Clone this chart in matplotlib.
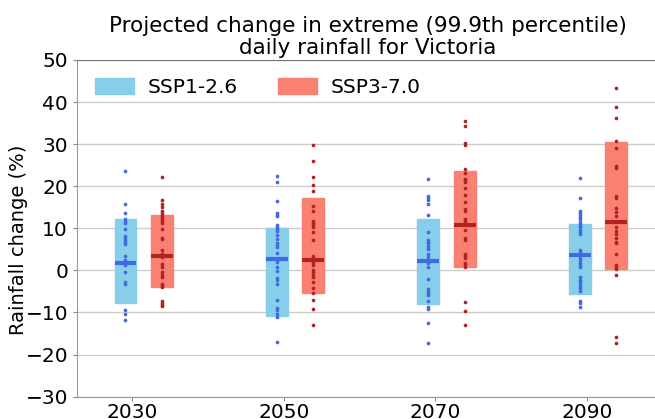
import matplotlib
matplotlib.use("Agg")
import matplotlib.pyplot as plt
import numpy as np
from matplotlib.patches import Patch

years = [2030, 2050, 2070, 2090]
scenarios = ["SSP1-2.6", "SSP3-7.0"]

ssp126_2030 = [23.6, 15.8, 13.6, 12.2, 11.7, 11.3, 9.8, 8.1, 7.6, 7.2, 6.7, 6.2, 3.4, 2.4,
               1.5, 1.2, -0.4, -2.8, -3.3, -9.4, -10.4, -11.8]
ssp126_2050 = [22.4, 21.1, 16.5, 13.7, 13.2, 12.8, 10.7, 10.2, 9.8, 9.3, 8.3, 7.4, 6.6, 6.0,
               5.5, 4.2, 2.0, 0.8, -0.2, -1.9, -2.4, -3.2, -7.0, -8.9, -9.5, -10.3, -11.2, -17.1]
ssp126_2070 = [21.8, 17.6, 17.1, 16.6, 15.7, 13.2, 9.2, 7.3, 6.8, 6.4, 5.9, 5.4, 5.0, 4.0,
               3.2, 2.7, 1.8, 0.8, -2.0, -4.5, -5.0, -5.5, -5.9, -7.4, -8.6, -9.1, -12.4, -17.2]
ssp126_2090 = [21.9, 17.1, 14.1, 13.6, 13.2, 12.7, 12.2, 11.6, 11.1, 10.6, 10.2, 9.7, 9.2, 8.7,
               4.8, 4.3, 2.9, 2.4, 1.8, 1.3, 0.8, -1.7, -2.2, -2.6, -3.1, -3.7, -4.2, -5.0,
               -7.4, -7.8, -8.8]
ssp370_2030 = [22.1, 16.8, 15.8, 15.0, 14.1, 13.6, 13.2, 12.7, 12.2, 11.7, 11.3, 9.8, 7.8, 7.5,
               4.9, 4.0, 3.1, 1.6, 0.7, -0.3, -1.2, -1.7, -3.3, -3.7, -4.0, -7.2, -7.7, -8.2, -8.5]
ssp370_2050 = [29.8, 25.9, 22.2, 20.3, 18.9, 15.3, 14.2, 11.7, 11.2, 10.7, 10.2, 9.1, 7.2, 3.3,
               2.7, 2.0, 1.2, 0.1, -0.3, -1.0, -1.6, -2.7, -4.1, -5.4, -7.1, -9.2, -13.1]
ssp370_2070 = [35.4, 34.3, 30.2, 29.7, 24.0, 23.1, 21.8, 21.4, 21.0, 19.6, 17.9, 16.2, 14.6, 14.1,
               12.2, 11.9, 11.4, 9.5, 7.6, 7.3, 3.8, 3.4, 2.9, 1.8, 1.3, 0.8, -7.5, -9.6, -12.9]
ssp370_2090 = [43.3, 38.9, 36.2, 30.8, 29.1, 24.8, 24.2, 17.7, 17.3, 14.9, 13.8, 12.8, 10.3, 9.4,
               8.6, 7.8, 6.7, 6.4, 4.0, 1.3, 0.8, 0.4, -1.2, -15.9, -17.3]

ssp126_low = [-7.8, -10.9, -8.1, -5.7]
ssp126_median = [1.8, 2.7, 2.3, 3.6]
ssp126_high = [12.1, 10.0, 12.1, 11.1]
ssp370_low = [-4.0, -5.3, 0.8, 0.3]
ssp370_median = [3.4, 2.4, 10.7, 11.6]
ssp370_high = [13.2, 17.1, 23.7, 30.4]

title = "Projected change in extreme (99.9th percentile)\ndaily rainfall for Victoria"
ylabel = "Rainfall change (%)"

dots = {
    "SSP1-2.6": [ssp126_2030, ssp126_2050, ssp126_2070, ssp126_2090],
    "SSP3-7.0": [ssp370_2030, ssp370_2050, ssp370_2070, ssp370_2090],
}
boxes = {
    "SSP1-2.6": (ssp126_low, ssp126_median, ssp126_high),
    "SSP3-7.0": (ssp370_low, ssp370_median, ssp370_high),
}
style = {
    "SSP1-2.6": dict(box="#87CEEB", mark="#4169E1", offset=-0.9),
    "SSP3-7.0": dict(box="#FA8072", mark="#B22222", offset=3.9),
}

fig = plt.figure(figsize=(6.55, 4.19), dpi=100)
ax = fig.add_axes([0.1176, 0.0535, 0.888, 0.8035])

width = 2.9
for sc in scenarios:
    st = style[sc]
    low, med, high = boxes[sc]
    xs = np.array(years) + st["offset"]
    ax.bar(xs, np.array(high) - np.array(low), bottom=low, width=width,
           color=st["box"], edgecolor=st["box"], linewidth=1, zorder=2)
    for x, m in zip(xs, med):
        ax.plot([x - width / 2, x + width / 2], [m, m], color=st["mark"],
                linewidth=3.0, solid_capstyle="butt", zorder=4)
    for x, vals in zip(xs, dots[sc]):
        ax.scatter([x] * len(vals), vals, s=7, color=st["mark"], zorder=3, linewidths=0)

ax.set_xlim(2022.7, 2099.5)
ax.set_ylim(-30, 50)
ax.set_xticks(years)
ax.set_xticklabels([str(y) for y in years])
ax.set_yticks(np.arange(-30, 51, 10))
ax.tick_params(labelsize=14.5, colors="black")
ax.tick_params(axis="both", color="#888888", length=3)
ax.tick_params(axis="x", pad=1.5)
ax.grid(axis="y", color="#cccccc", linewidth=1, zorder=0)
ax.set_axisbelow(True)
for s in ["left", "bottom"]:
    ax.spines[s].set_color("#999999")
ax.spines["top"].set_color("#777777")
ax.spines["right"].set_visible(False)

ax.set_ylabel(ylabel, fontsize=14)
ax.yaxis.set_label_coords(-0.085, 0.465)
ax.set_title(title, fontsize=15.5, linespacing=1.15, pad=4)

handles = [Patch(facecolor=style[sc]["box"], edgecolor=style[sc]["box"]) for sc in scenarios]
ax.legend(handles, scenarios, ncol=2, frameon=False, fontsize=14.5, loc="upper left",
          bbox_to_anchor=(0.0, 1.0), handlelength=1.95, handleheight=0.8,
          handletextpad=0.65, columnspacing=2.0)

fig.savefig("out.png", dpi=100)
